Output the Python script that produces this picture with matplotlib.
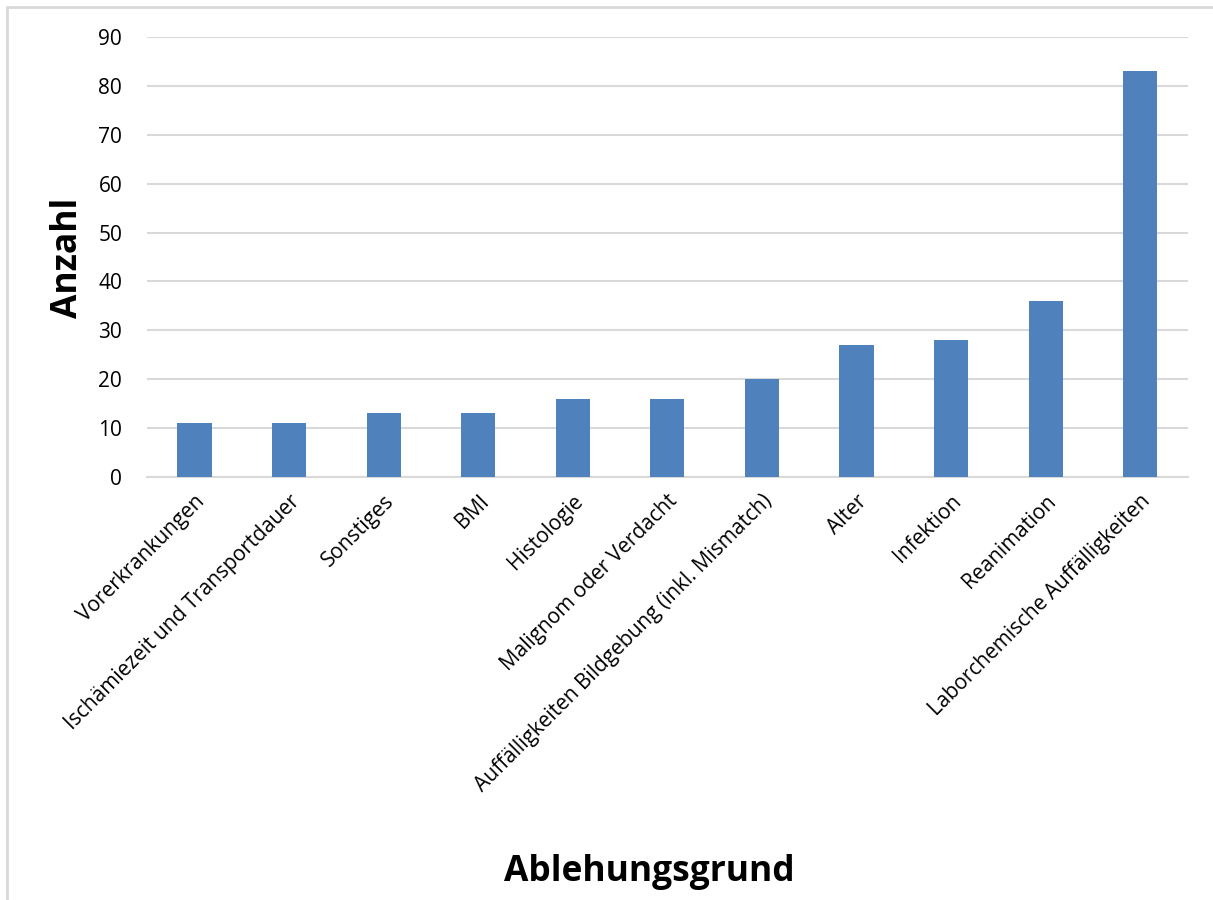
import matplotlib
matplotlib.use("Agg")
import matplotlib.pyplot as plt
from matplotlib.patches import Rectangle

categories = ["Vorerkrankungen", "Ischämiezeit und Transportdauer", "Sonstiges", "BMI",
              "Histologie", "Malignom oder Verdacht",
              "Auffälligkeiten Bildgebung (inkl. Mismatch)", "Alter", "Infektion",
              "Reanimation", "Laborchemische Auffälligkeiten"]
values = [11, 11, 13, 13, 16, 16, 20, 27, 28, 36, 83]
yticks = [0, 10, 20, 30, 40, 50, 60, 70, 80, 90]

plt.rcParams['font.family'] = ['Open Sans', 'DejaVu Sans']

fig = plt.figure(figsize=(12.13, 9), dpi=100)
fig.patches.append(Rectangle((7/1213, -0.1), 1.2, (900-7)/900 + 0.1, transform=fig.transFigure,
                             fill=False, edgecolor='#D9D9D9', linewidth=2))
ax = fig.add_axes([147.2/1213, 1 - 477/900, (1187.5-147.2)/1213, 440/900])

x = list(range(len(categories)))
ax.bar(x, values, width=0.36, color='#4F81BD', zorder=3)
ax.set_xlim(-0.5, len(categories) - 0.5)
ax.set_ylim(0, 90)
ax.set_yticks(yticks)
ax.set_yticklabels([str(v) for v in yticks], fontsize=15)
ax.set_xticks(x)
ax.set_xticklabels(categories, rotation=45, ha='right', rotation_mode='anchor', fontsize=15)
ax.tick_params(axis='both', length=0)
ax.tick_params(axis='y', pad=18)
ax.tick_params(axis='x', pad=10)
ax.yaxis.grid(True, color='#D9D9D9', linewidth=1.5, zorder=0)
for s in ['top', 'right', 'left']:
    ax.spines[s].set_visible(False)
ax.spines['bottom'].set_color('#D9D9D9')
ax.spines['bottom'].set_linewidth(1.5)

fig.text(68/1213, 1 - 258/900, 'Anzahl', fontsize=25.5, fontweight='bold',
         rotation=90, ha='center', va='center')
fig.text(649/1213, 1 - 872/900, 'Ablehungsgrund', fontsize=25.5, fontweight='bold',
         ha='center', va='center')

fig.savefig('out.png', dpi=100)
